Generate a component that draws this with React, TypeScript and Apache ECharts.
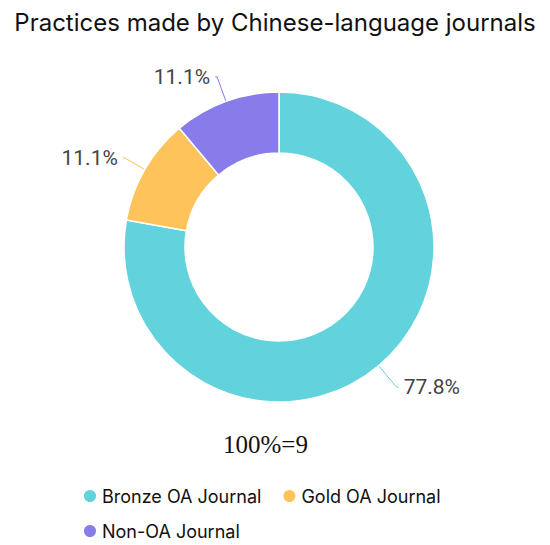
import React, { useEffect, useRef } from "react";
import * as echarts from "echarts";

const categories = ["Bronze OA Journal", "Gold OA Journal", "Non-OA Journal"];
const values = [7, 1, 1];
const colors = ["#62d2dc", "#fec35a", "#887bea"];
const titleText = "Practices made by Chinese-language journals";
const totalText = "100%=9";

export default function App() {
  const ref = useRef<HTMLDivElement>(null);
  useEffect(() => {
    if (!ref.current) return;
    const chart = echarts.init(ref.current, null, { renderer: "svg" });
    const total = values.reduce((a, b) => a + b, 0);
    const legendCommon = {
      icon: "circle",
      itemWidth: 14,
      itemHeight: 14,
      itemGap: 20,
      orient: "horizontal",
      textStyle: { fontFamily: "Inter", fontSize: 18, color: "#111" },
    };
    const lineLengths = [28, 23, 26];
    chart.setOption({
      animation: false,
      title: {
        text: titleText,
        left: "center",
        top: 5,
        textStyle: { fontFamily: "Inter", fontSize: 24, fontWeight: "normal", color: "#111" },
      },
      legend: [
        { ...legendCommon, data: categories.slice(0, 2), left: 77, top: 482 },
        { ...legendCommon, data: categories.slice(2), left: 77, top: 517 },
      ],
      graphic: [
        {
          type: "text",
          left: 223,
          top: 432,
          style: { text: totalText, font: "25px 'Liberation Serif'", fill: "#111" },
        },
      ],
      series: [
        {
          type: "pie",
          center: [279, 247],
          radius: [94, 155],
          startAngle: 90,
          clockwise: true,
          itemStyle: { borderColor: "#fff", borderWidth: 1.5 },
          label: {
            show: true,
            formatter: (p: any) => ((p.value / total) * 100).toFixed(1) + "%",
            fontFamily: "Roboto",
            fontWeight: "normal",
            fontSize: 21,
            color: "#444",
          },
          labelLine: { show: true, length: 22, length2: 2, lineStyle: { width: 1 } },
          data: categories.map((c, i) => ({
            name: c,
            value: values[i],
            itemStyle: { color: colors[i] },
            labelLine: { length: lineLengths[i] },
          })),
        },
      ],
    });
    return () => chart.dispose();
  }, []);
  return (
    <div
      ref={ref}
      style={{ position: "absolute", left: 0, top: 0, width: 550, height: 545 }}
    />
  );
}
